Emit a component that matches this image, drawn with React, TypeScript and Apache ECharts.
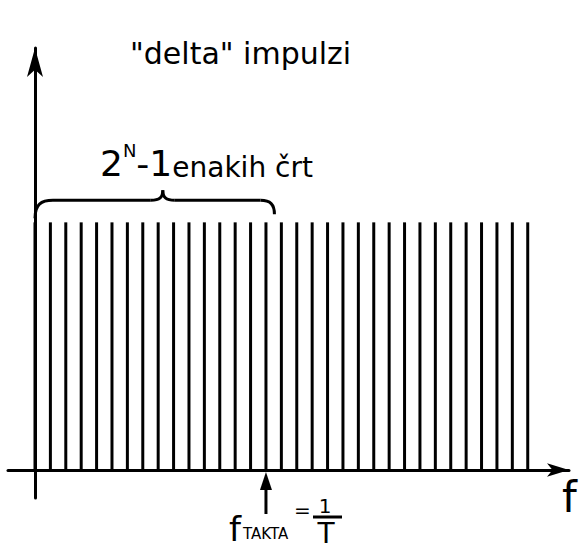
import React, { useEffect, useRef } from "react";
import * as echarts from "echarts";

// impulse positions (multiples of the line spacing) and their heights
const harmonicIndex = [0, 1, 2, 3, 4, 5, 6, 7, 8, 9, 10, 11, 12, 13, 14, 15, 16, 17, 18, 19, 20, 21, 22, 23, 24, 25, 26, 27, 28, 29, 30, 31, 32];
const impulseHeight = [1, 1, 1, 1, 1, 1, 1, 1, 1, 1, 1, 1, 1, 1, 1, 1, 1, 1, 1, 1, 1, 1, 1, 1, 1, 1, 1, 1, 1, 1, 1, 1, 1];
const clockHarmonic = 15; // 2^N - 1 lines up to f_TAKTA

const titleText = '"delta" impulzi';
const braceBase = "2";
const braceExp = "N";
const braceOne = "-1";
const braceRest = "enakih črt";
const clockF = "f";
const clockSub = "TAKTA";
const fracNum = "1";
const fracDen = "T";
const axisName = "f";

const FONT = "DejaVu Sans";
const INK = "#000";

export default function App() {
  const ref = useRef<HTMLDivElement>(null);
  useEffect(() => {
    if (!ref.current) return;
    const chart = echarts.init(ref.current, undefined, { renderer: "svg" });
    chart.setOption({
      animation: false,
      backgroundColor: "#fff",
      grid: { left: 8, right: 11, top: 48, bottom: 54, containLabel: false },
      xAxis: {
        type: "value",
        min: -1.753,
        max: 34.68,
        axisLine: {
          onZero: true,
          symbol: ["none", "arrow"],
          symbolSize: [10, 22],
          lineStyle: { color: INK, width: 3 },
        },
        axisTick: { show: false },
        axisLabel: { show: false },
        splitLine: { show: false },
      },
      yAxis: {
        type: "value",
        min: -0.113,
        max: 1.704,
        axisLine: {
          onZero: true,
          symbol: ["none", "arrow"],
          symbolSize: [12, 29],
          lineStyle: { color: INK, width: 3 },
        },
        axisTick: { show: false },
        axisLabel: { show: false },
        splitLine: { show: false },
      },
      series: [
        {
          type: "bar",
          silent: true,
          barWidth: 3,
          itemStyle: { color: INK },
          data: harmonicIndex.map((k, i) => [k, impulseHeight[i]]),
        },
      ],
    });

    const top0 = chart.convertToPixel({ gridIndex: 0 }, [0, impulseHeight[0]]) as number[];
    const clk = chart.convertToPixel({ gridIndex: 0 }, [clockHarmonic, 0]) as number[];
    const right = chart.convertToPixel({ gridIndex: 0 }, [clockHarmonic + 0.55, 0]) as number[];
    const mid = chart.convertToPixel({ gridIndex: 0 }, [8.3, 0]) as number[];

    const L = top0[0];
    const R = right[0];
    const C = mid[0];
    const Y = top0[1] - 22;
    const stroke = { stroke: INK, lineWidth: 3, fill: "none" };

    chart.setOption({
      graphic: [
        {
          type: "text",
          x: 130,
          y: 38,
          style: { text: titleText, fontFamily: FONT, fontSize: 30, fill: INK },
        },
        {
          type: "text",
          x: 100,
          y: 141,
          style: {
            text: `{big|${braceBase}}{sup|${braceExp}}{big|${braceOne}}{a|${braceRest}}`,
            fill: INK,
            rich: {
              big: { fontFamily: FONT, fontSize: 36, verticalAlign: "bottom", lineHeight: 40 },
              sup: { fontFamily: FONT, fontSize: 18, verticalAlign: "top", lineHeight: 40 },
              a: { fontFamily: FONT, fontSize: 28, verticalAlign: "bottom", lineHeight: 40 },
            },
          },
        },
        // brace
        { type: "bezierCurve", shape: { x1: L, y1: Y + 18, cpx1: L, cpy1: Y + 4, cpx2: L + 6, cpy2: Y, x2: L + 18, y2: Y }, style: stroke },
        { type: "line", shape: { x1: L + 18, y1: Y, x2: C - 12, y2: Y }, style: stroke },
        { type: "bezierCurve", shape: { x1: C - 12, y1: Y, cpx1: C - 3, cpy1: Y, cpx2: C, cpy2: Y - 3, x2: C, y2: Y - 10 }, style: stroke },
        { type: "bezierCurve", shape: { x1: C, y1: Y - 10, cpx1: C, cpy1: Y - 3, cpx2: C + 3, cpy2: Y, x2: C + 12, y2: Y }, style: stroke },
        { type: "line", shape: { x1: C + 12, y1: Y, x2: R - 14, y2: Y }, style: stroke },
        { type: "bezierCurve", shape: { x1: R - 14, y1: Y, cpx1: R - 4, cpy1: Y, cpx2: R, cpy2: Y + 4, x2: R, y2: Y + 14 }, style: stroke },
        // clock frequency arrow
        { type: "line", shape: { x1: clk[0], y1: clk[1] + 44, x2: clk[0], y2: clk[1] + 16 }, style: stroke },
        {
          type: "polygon",
          shape: { points: [[clk[0], clk[1] + 2], [clk[0] - 6, clk[1] + 20], [clk[0] + 6, clk[1] + 20]] },
          style: { fill: INK },
        },
        // f_TAKTA = 1/T
        { type: "text", x: 229, y: 512, style: { text: clockF, fontFamily: FONT, fontSize: 34, fill: INK } },
        { type: "text", x: 243, y: 526, style: { text: clockSub, fontFamily: FONT, fontSize: 15, fill: INK } },
        { type: "text", x: 294, y: 500, style: { text: "=", fontFamily: FONT, fontSize: 20, fill: INK } },
        { type: "text", x: 325, y: 496, style: { text: fracNum, fontFamily: FONT, fontSize: 20, fill: INK, align: "center" } },
        { type: "line", shape: { x1: 313, y1: 517, x2: 342, y2: 517 }, style: stroke },
        { type: "text", x: 326, y: 519, style: { text: fracDen, fontFamily: FONT, fontSize: 28, fill: INK, align: "center" } },
        // axis name
        { type: "text", x: 562, y: 476, style: { text: axisName, fontFamily: FONT, fontSize: 42, fill: INK } },
      ],
    });

    return () => chart.dispose();
  }, []);
  return (
    <div
      ref={ref}
      style={{ position: "fixed", left: 0, top: 0, width: 580, height: 552, background: "#fff" }}
    />
  );
}
